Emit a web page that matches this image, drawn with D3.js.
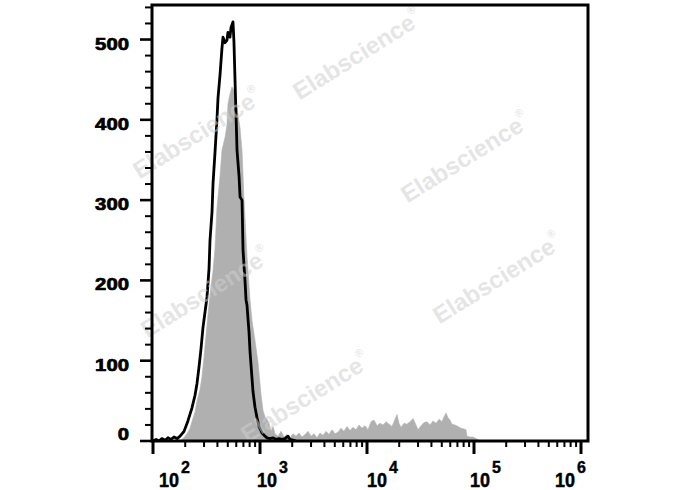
<!DOCTYPE html>
<html><head><meta charset="utf-8">
<script src="https://cdn.jsdelivr.net/npm/d3@7"></script>
<style>body{margin:0;background:#fff}svg{display:block}</style>
</head><body>
<script>
// Control (black outline) histogram
const controlIntensity = [100,107,114,121,130,138,147,157,168,179,195,212,231,247,258,269,281,293,306,320,334,341,356,364,380,396,405,423,441,451,471,491,502,524,536,559,571,584,597,610,637,651,679,694,724,740,756,790,807,842,861,898,938,979,1044,1114,1163,1240,1322,1412,1507,1607,1714,1828,1906,2034,2170];
const controlCount = [0,2,0,3,1,4,2,5,3,6,12,25,41,57,72,92,115,141,160,180,215,250,285,321,360,400,427,456,489,503,496,499,509,503,515,522,497,450,406,362,330,304,300,238,200,176,169,135,111,78,61,42,29,18,10,6,4,3,4,2,3,2,3,6,2,1,0];

// Stained sample (gray filled) histogram
const sampleIntensity = [179,191,208,222,231,247,258,275,287,300,320,341,364,380,396,423,441,471,492,502,524,547,584,623,650,679,709,756,806,842,898,958,1022,1067,1114,1163,1214,1267,1323,1381,1473,1572,1676,1788,1908,2035,2171,2315,2470,2634,2810,2998,3198,3411,3638,3881,4140,4416,4710,5024,5360,5715,6096,6503,6936,7399,7892,8419,8981,9579,10217,10900,11626,12403,13230,14112,15055,16058,17128,18273,19077,19916,20793,22177,23655,25234,26915,28708,29975,31977,34107,36380,38806,41395,44155,47100,50235,52445,54750,57150,59670,62290,66450,70870,75590,80620,84180,86020,91760,97880,104400,111400,116300];
const sampleCount = [0,3,9,16,24,36,50,64,80,105,145,182,212,240,290,330,362,378,394,420,432,441,435,406,390,362,300,230,176,150,125,98,58,38,30,27,22,12,18,9,6,12,5,8,4,9,6,10,5,8,12,6,9,4,10,7,12,8,14,9,11,16,12,18,13,17,14,20,16,19,14,24,26,19,22,20,24,21,18,27,33,22,17,22,21,24,28,20,14,19,23,24,20,25,22,27,24,30,35,29,26,21,20,18,16,15,14,6,5,5,3,1,0];

const yTickValues = [0,100,200,300,400,500];
const xDecades = [100,1000,10000,100000,1000000];
const xExponents = ["2","3","4","5","6"];
const watermarkText = "Elabscience";

const W = 688, H = 490;
const L = 152, R = 588, T = 5, B = 441;
const FONT = "'Liberation Sans', Arial, sans-serif";

const svg = d3.select("body").append("svg").attr("width", W).attr("height", H);

const x = d3.scaleLog().domain([100, 1000000]).range([153, 581]);
const y = d3.scaleLinear().domain([0, 543]).range([B, T]);

const control = controlIntensity.map((v, i) => ({v, c: controlCount[i]}));
const sample = sampleIntensity.map((v, i) => ({v, c: sampleCount[i]}));

svg.append("clipPath").attr("id", "plot").append("rect")
  .attr("x", L).attr("y", T).attr("width", R - L).attr("height", B - T);

const g = svg.append("g").attr("clip-path", "url(#plot)");

g.append("path").datum(sample)
  .attr("d", d3.area().x(d => x(d.v)).y0(y(0)).y1(d => y(d.c)))
  .attr("fill", "#b0b0b0").attr("stroke", "#b0b0b0").attr("stroke-width", 0.6);

g.append("path").datum(control)
  .attr("d", d3.line().x(d => x(d.v)).y(d => y(d.c)))
  .attr("fill", "none").attr("stroke", "#000").attr("stroke-width", 2.8)
  .attr("stroke-linejoin", "round");

// watermarks
const wmPos = [[357,54],[197,133],[465,157],[205,292],[497,278],[305,397]];
wmPos.forEach(p => {
  const t = svg.append("text")
    .attr("transform", `translate(${p[0]},${p[1]}) rotate(-32)`)
    .attr("text-anchor", "middle").attr("dominant-baseline", "central")
    .attr("font-family", FONT)
    .attr("font-weight", "bold").attr("font-size", 24)
    .attr("fill", "#cfcfcf").attr("fill-opacity", 0.55);
  t.append("tspan").text(watermarkText);
  t.append("tspan").attr("font-size", 11).attr("dy", -9).text("®");
});

// frame
svg.append("rect").attr("x", L).attr("y", T).attr("width", R - L).attr("height", B - T)
  .attr("fill", "none").attr("stroke", "#000").attr("stroke-width", 3);

// y ticks
const minorY = d3.range(0, 541, 20).filter(v => v % 100 !== 0);
svg.selectAll(".ym").data(minorY).enter().append("line")
  .attr("x1", L - 7).attr("x2", L).attr("y1", d => y(d)).attr("y2", d => y(d))
  .attr("stroke", "#000").attr("stroke-width", 2);
svg.selectAll(".yM").data(yTickValues).enter().append("line")
  .attr("x1", L - 12).attr("x2", L).attr("y1", d => y(d)).attr("y2", d => y(d))
  .attr("stroke", "#000").attr("stroke-width", 2.6);
svg.selectAll(".yl").data(yTickValues).enter().append("text")
  .attr("x", 129).attr("y", d => d === 0 ? 440 : y(d) + 10)
  .attr("text-anchor", "end")
  .attr("font-family", FONT)
  .attr("font-weight", "bold").attr("font-size", 17)
  .attr("stroke", "#000").attr("stroke-width", 0.7)
  .attr("textLength", d => String(d).length * 11.3)
  .attr("lengthAdjust", "spacingAndGlyphs")
  .text(d => d);

// x ticks
const minorX = [];
xDecades.slice(0, -1).forEach(d => { for (let k = 2; k <= 9; k++) minorX.push(d * k); });
svg.selectAll(".xm").data(minorX).enter().append("line")
  .attr("x1", d => x(d)).attr("x2", d => x(d)).attr("y1", B).attr("y2", B + 6)
  .attr("stroke", "#000").attr("stroke-width", 2);
svg.selectAll(".xM").data(xDecades).enter().append("line")
  .attr("x1", d => x(d)).attr("x2", d => x(d)).attr("y1", B).attr("y2", B + 13)
  .attr("stroke", "#000").attr("stroke-width", 3);

const labelShift = [8, -1, 2, -2, -24];
xDecades.forEach((d, i) => {
  const x0 = x(d) + labelShift[i] - 2;
  svg.append("text").attr("x", x0).attr("y", 487)
    .attr("font-family", FONT)
    .attr("font-weight", "bold").attr("font-size", 20)
    .attr("stroke", "#000").attr("stroke-width", 0.5)
    .attr("textLength", 20).attr("lengthAdjust", "spacingAndGlyphs")
    .text("10");
  svg.append("text").attr("x", x0 + 22).attr("y", 473)
    .attr("font-family", FONT)
    .attr("font-weight", "bold").attr("font-size", 16)
    .attr("stroke", "#000").attr("stroke-width", 0.4)
    .text(xExponents[i]);
});
</script>
</body></html>
